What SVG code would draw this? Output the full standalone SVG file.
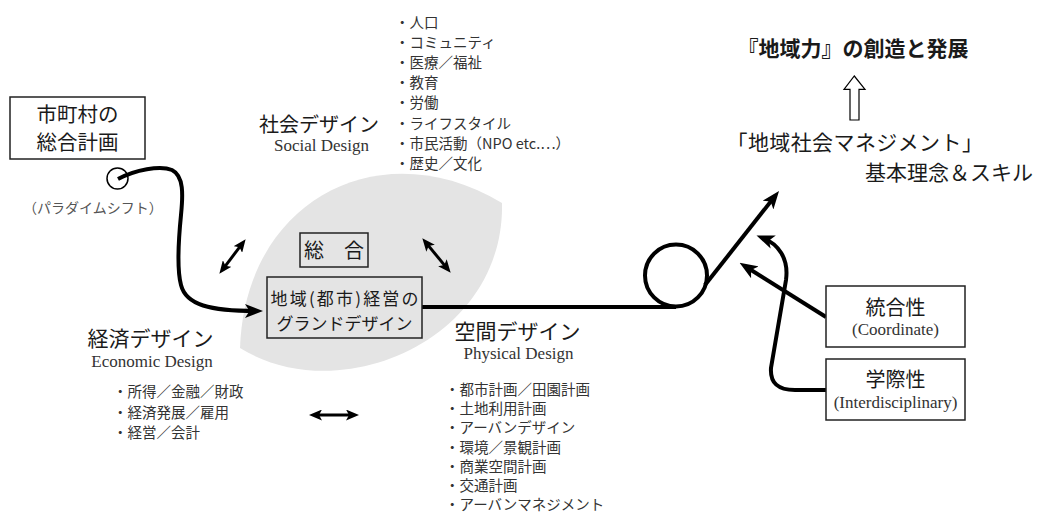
<svg xmlns="http://www.w3.org/2000/svg" width="1037" height="514" viewBox="0 0 1037 514">
<style>
.jp{font-family:"Noto Sans CJK JP","Noto Sans",sans-serif;fill:#1a1a1a}
.sr{font-family:"Liberation Serif",serif;fill:#333}
.bl{font-family:"Noto Sans CJK JP","Noto Sans",sans-serif;fill:#333;font-size:14.5px}
.box{fill:#fff;stroke:#222;stroke-width:1.5}
.boxg{fill:none;stroke:#222;stroke-width:1.5}
.con{fill:none;stroke:#000;stroke-width:4}
.dbl{fill:none;stroke:#000;stroke-width:3;marker-start:url(#dh);marker-end:url(#dh)}
.mid{text-anchor:middle}
</style>
<defs>
<marker id="ah" viewBox="0 0 18 14" refX="11" refY="7" markerWidth="18" markerHeight="14" markerUnits="userSpaceOnUse" orient="auto"><path d="M0,0 L18,7 L0,14 L4.5,7 z" fill="#000"/></marker>
<marker id="dh" viewBox="0 0 13 11" refX="8" refY="5.5" markerWidth="13" markerHeight="11" markerUnits="userSpaceOnUse" orient="auto-start-reverse"><path d="M0,0 L13,5.5 L0,11 L3,5.5 z" fill="#000"/></marker>
</defs>

<g id="leaf"><path d="M240,348 C245,200 380,130 502,203 C505,340 340,410 240,348 Z" fill="#e4e4e4"/></g>

<g id="connectors">
<circle cx="117.5" cy="178.5" r="10.5" fill="#fff" stroke="#000" stroke-width="1.5"/>
<path class="con" d="M118,179 C135,170 160,165 172,170 C184,176 183,195 181,215 C178,245 177,270 181,285 C186,305 210,311 256,311" marker-end="url(#ah)"/>
<path class="con" d="M422,307 L676,307"/>
<circle class="con" cx="676" cy="275.5" r="31"/>
<path class="con" d="M705,285 L774.7,196.5" marker-end="url(#ah)"/>
<path class="con" d="M826,317 L745.5,266.5" marker-end="url(#ah)"/>
<path class="con" d="M826,390 L795,390 C778,390 770,383 771,368 L786,280 C789,258 778,244 763,238" marker-end="url(#ah)"/>
<path class="dbl" d="M222.4,269.8 L242.6,243.2"/>
<path class="dbl" d="M425.5,242.1 L447.5,268.9"/>
<path class="dbl" d="M314,415 L354,415"/>
<polygon points="854.3,76 865,89.3 859,89.3 859,120 850,120 850,89.3 844,89.3" fill="#fff" stroke="#000" stroke-width="1.2"/>
</g>

<g id="node-shichoson">
<rect class="box" x="10" y="97" width="135" height="62"/>
<text class="jp mid" x="77.5" y="122" font-size="20.5">市町村の</text>
<text class="jp mid" x="77.5" y="149.5" font-size="20.5">総合計画</text>
</g>
<g id="label-paradigm"><text class="jp" x="23" y="213" font-size="14" style="fill:#555">（パラダイムシフト）</text></g>

<g id="node-sogo">
<rect class="boxg" x="300" y="233" width="68" height="34"/>
<text class="jp mid" x="334" y="257.5" font-size="20">総　合</text>
</g>
<g id="node-grand">
<rect class="boxg" x="267" y="277" width="155" height="61"/>
<text class="jp mid" x="344.5" y="304.5" font-size="17" textLength="148" lengthAdjust="spacing">地域(都市)経営の</text>
<text class="jp mid" x="344.5" y="329.5" font-size="17">グランドデザイン</text>
</g>

<g id="node-social">
<text class="jp mid" x="319" y="132" font-size="20">社会デザイン</text>
<text class="sr mid" x="321.5" y="151" font-size="17">Social Design</text>
<text class="bl" x="395" y="27.5">・人口</text>
<text class="bl" x="395" y="47.5">・コミュニティ</text>
<text class="bl" x="395" y="67.5">・医療／福祉</text>
<text class="bl" x="395" y="87.5">・教育</text>
<text class="bl" x="395" y="107.5">・労働</text>
<text class="bl" x="395" y="128.5">・ライフスタイル</text>
<text class="bl" x="395" y="148.5">・市民活動（NPO etc.…）</text>
<text class="bl" x="395" y="168.5">・歴史／文化</text>
</g>

<g id="node-economic">
<text class="jp mid" x="150.5" y="345.5" font-size="21">経済デザイン</text>
<text class="sr mid" x="152" y="366.5" font-size="17">Economic Design</text>
<text class="bl" x="113" y="396.5">・所得／金融／財政</text>
<text class="bl" x="113" y="417.5">・経済発展／雇用</text>
<text class="bl" x="113" y="437.5">・経営／会計</text>
</g>

<g id="node-physical">
<text class="jp mid" x="517.5" y="339" font-size="21">空間デザイン</text>
<text class="sr mid" x="518.5" y="358.5" font-size="17">Physical Design</text>
<text class="bl" x="445" y="395">・都市計画／田園計画</text>
<text class="bl" x="445" y="414.2">・土地利用計画</text>
<text class="bl" x="445" y="433.4">・アーバンデザイン</text>
<text class="bl" x="445" y="452.6">・環境／景観計画</text>
<text class="bl" x="445" y="471.8">・商業空間計画</text>
<text class="bl" x="445" y="491">・交通計画</text>
<text class="bl" x="445" y="510.2">・アーバンマネジメント</text>
</g>

<g id="node-chiikiryoku">
<text class="jp" x="737.5" y="56" font-size="21" font-weight="bold">『地域力』の創造と発展</text>
</g>
<g id="node-management">
<text class="jp" x="726.5" y="150" font-size="21" letter-spacing="0.4">「地域社会マネジメント」</text>
<text class="jp" x="865" y="180" font-size="21">基本理念＆スキル</text>
</g>

<g id="node-togo">
<rect class="box" x="826" y="286" width="139" height="61"/>
<text class="jp mid" x="895.5" y="314.5" font-size="20">統合性</text>
<text class="sr mid" x="895.5" y="334.5" font-size="17">(Coordinate)</text>
</g>
<g id="node-gakusai">
<rect class="box" x="826" y="359" width="139" height="61"/>
<text class="jp mid" x="895.5" y="386.5" font-size="20">学際性</text>
<text class="sr mid" x="895.5" y="407.5" font-size="17">(Interdisciplinary)</text>
</g>
</svg>
